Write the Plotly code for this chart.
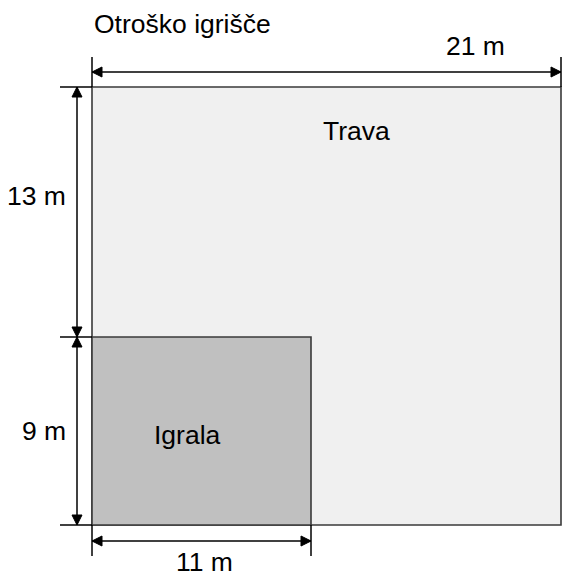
import plotly.graph_objects as go

# ---- data ----
title = "Otroško igrišče"
area_labels = ["Trava", "Igrala"]
dim_values = [21, 13, 9, 11]
dim_unit = "m"
dim_labels = [f"{v} {dim_unit}" for v in dim_values]

# ---- schematic layout (pixel-like diagram coordinates, not to scale) ----
W, H = 562, 575
X0, X1, XI = 92, 561, 311          # outer left, outer right, inner right
Y0, YM, Y1 = 87, 337, 525          # outer top, split, bottom
TOP_DIM_Y, LEFT_DIM_X, BOT_DIM_Y = 72, 77, 541
EXT_TOP, EXT_LEFT, EXT_BOT = 57, 60, 556
AH_L, AH_W = 10, 5                  # arrowhead length, half-width

FONT = "Liberation Sans, Arial, sans-serif"
FS = 26.5
LINE = dict(color="black", width=1.5)

shapes = []
# areas
shapes.append(dict(type="rect", x0=X0, x1=X1, y0=Y0, y1=Y1,
                   fillcolor="#f0f0f0", line=dict(color="#3a3a3a", width=1.6), layer="below"))
shapes.append(dict(type="rect", x0=X0, x1=XI, y0=YM, y1=Y1,
                   fillcolor="#c0c0c0", line=dict(color="#3a3a3a", width=1.6), layer="below"))

def seg(x0, y0, x1, y1):
    shapes.append(dict(type="line", x0=x0, y0=y0, x1=x1, y1=y1, line=LINE))

def head(tx, ty, dx, dy):
    # filled triangle with tip at (tx,ty) pointing in direction (dx,dy)
    bx, by = tx - dx * AH_L, ty - dy * AH_L
    px, py = -dy * AH_W, dx * AH_W
    path = f"M {tx},{ty} L {bx+px},{by+py} L {bx-px},{by-py} Z"
    shapes.append(dict(type="path", path=path, fillcolor="black", line=dict(color="black", width=1)))

# extension lines
seg(X0, EXT_TOP, X0, Y0)
seg(X1, EXT_TOP, X1, Y0)
for y in (Y0, YM, Y1):
    seg(EXT_LEFT, y, X0, y)
seg(X0, Y1, X0, EXT_BOT)
seg(XI, Y1, XI, EXT_BOT)

# top dimension (21 m)
seg(X0, TOP_DIM_Y, X1, TOP_DIM_Y)
head(X0, TOP_DIM_Y, -1, 0)
head(X1, TOP_DIM_Y, 1, 0)

# left dimension (13 m, 9 m)
seg(LEFT_DIM_X, Y0, LEFT_DIM_X, Y1)
head(LEFT_DIM_X, Y0, 0, -1)
head(LEFT_DIM_X, YM, 0, 1)
head(LEFT_DIM_X, YM, 0, -1)
head(LEFT_DIM_X, Y1, 0, 1)

# bottom dimension (11 m)
seg(X0, BOT_DIM_Y, XI, BOT_DIM_Y)
head(X0, BOT_DIM_Y, -1, 0)
head(XI, BOT_DIM_Y, 1, 0)

def txt(x, y, s, xanchor="center"):
    return dict(x=x, y=y, text=s, showarrow=False, xanchor=xanchor, yanchor="middle",
                font=dict(family=FONT, size=FS, color="black"))

annotations = [
    txt(X0, 24, title, "left"),
    txt(475, 46, dim_labels[0]),
    txt(356, 131, area_labels[0]),
    txt(187, 435, area_labels[1]),
    txt(68, 196, dim_labels[1], "right"),
    txt(68, 431, dim_labels[2], "right"),
    txt(204, 562, dim_labels[3]),
]

fig = go.Figure()
fig.update_layout(
    width=W, height=H,
    margin=dict(l=0, r=0, t=0, b=0),
    paper_bgcolor="white", plot_bgcolor="white",
    xaxis=dict(range=[0, W], visible=False, fixedrange=True),
    yaxis=dict(range=[H, 0], visible=False, fixedrange=True),
    shapes=shapes, annotations=annotations, showlegend=False,
)
fig.write_html(
    "out.html",
    config={"displayModeBar": False},
    post_script="document.body.style.margin='0';document.body.style.overflow='hidden';",
)
